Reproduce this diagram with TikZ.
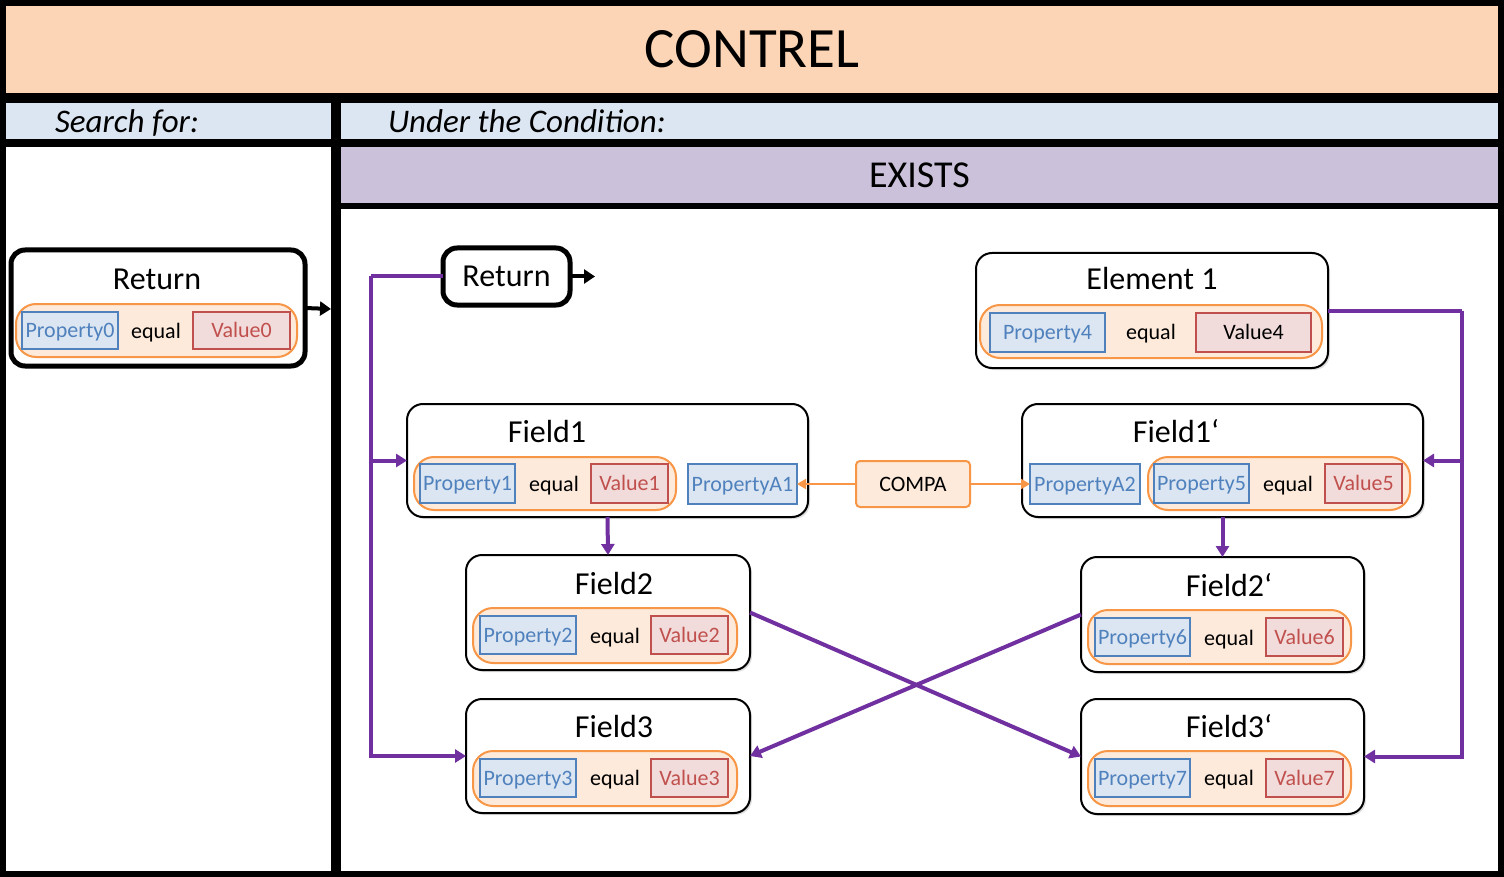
\documentclass[tikz,border=0pt]{standalone}
\usepackage{fontspec}
\setmainfont{Carlito}
\usetikzlibrary{arrows.meta,shadows}
\definecolor{peach}{HTML}{FBD5B5}
\definecolor{hdrblue}{HTML}{DCE6F2}
\definecolor{lilac}{HTML}{CCC1DA}
\definecolor{pillfill}{HTML}{FDEADA}
\definecolor{pillline}{HTML}{F79646}
\definecolor{propline}{HTML}{4F81BD}
\definecolor{propfill}{HTML}{DCE6F2}
\definecolor{valline}{HTML}{C0504D}
\definecolor{valfill}{HTML}{F2DCDB}
\definecolor{purp}{HTML}{7030A0}
\newcommand\bx[7]{\node[#6,minimum width={(#4)-(#2)},minimum height={(#5)-(#3)}] (#1) at ({((#2)+(#4))/2},{((#3)+(#5))/2}) {#7};}
\tikzset{
  every node/.style={inner sep=0pt,outer sep=0pt},
  band/.style={rectangle},
  softshadow/.style={drop shadow={opacity=0.25,shadow xshift=2pt,shadow yshift=-2pt}},
  bigbox/.style={draw=black,line width=2pt,rounded corners=16pt,fill=white,softshadow},
  retbox/.style={draw=black,line width=5pt,rounded corners=14pt,fill=white,softshadow},
  pill/.style={draw=pillline,line width=2pt,fill=pillfill,rounded corners=20pt},
  small/.style={font=\fontsize{22}{26}\selectfont,text height=16pt,text depth=2pt},
  prop/.style={draw=propline,line width=1.8pt,fill=propfill,text=propline,small},
  val/.style={draw=valline,line width=1.8pt,fill=valfill,text=valline,small},
  eqt/.style={small},
  ttl/.style={font=\fontsize{32}{36}\selectfont},
  hdr/.style={font=\fontsize{33}{36}\selectfont\itshape,text height=23pt,text depth=0pt,anchor=west},
  compabox/.style={draw=pillline,line width=2pt,fill=pillfill,rounded corners=4pt,small},
  parrow/.style={draw=purp,line width=4pt,-{Triangle[width=13pt,length=11pt]}},
  pline/.style={draw=purp,line width=4pt},
  oarrow/.style={draw=pillline,line width=2pt,-{Triangle[width=10pt,length=9pt]}},
  karrow/.style={draw=black,line width=4pt,-{Triangle[width=14pt,length=11pt]}},
}
\begin{document}
\begin{tikzpicture}[x=1pt,y=-1pt]
\fill[black] (0,0) rectangle (1504,877);
\useasboundingbox (0,0) rectangle (1504,877);
% bands and panels
\bx{title}{6}{6}{1498}{93}{band,fill=peach,font=\fontsize{57}{64}\selectfont}{CONTREL}
\bx{sbar}{6}{103}{331}{139}{band,fill=hdrblue}{}
\bx{cbar}{341}{103}{1498}{139}{band,fill=hdrblue}{}
\node[hdr] (stxt) at (55,121) {Search for:};
\node[hdr] (ctxt) at (388,121) {Under the Condition:};
\bx{lpanel}{6}{147}{331}{871}{band,fill=white}{}
\bx{exists}{341}{147}{1498}{203}{band,fill=lilac,font=\fontsize{38}{42}\selectfont}{EXISTS}
\bx{rpanel}{341}{209}{1498}{871}{band,fill=white}{}

% left Return
\bx{ret1}{11}{250}{305}{366}{retbox}{}
\node[ttl] (ret1t) at (157,279) {Return};
\bx{p0pill}{16}{304}{297}{357}{pill}{}
\bx{p0}{22}{312}{118}{349}{prop}{Property0}
\node[eqt] (e0) at (156,331) {equal};
\bx{v0}{193}{312}{290}{349}{val}{Value0}
\coordinate (ret1end) at (331,309);
\draw[karrow] (ret1.east) -- (ret1end);

% middle Return
\bx{ret2}{443}{248}{570}{305}{retbox,ttl}{Return}
\coordinate (ret2end) at (595,276.5);
\draw[karrow] (ret2.east) -- (ret2end);

% Element 1
\bx{e1}{976}{253}{1328}{368}{bigbox}{}
\node[ttl] (e1t) at (1152,279) {Element 1};
\bx{e1pill}{980}{305}{1322}{358}{pill}{}
\bx{p4}{990}{313}{1105}{352}{prop}{Property4}
\node[eqt] (e4) at (1151,332) {equal};
\bx{v4}{1196}{313}{1311}{352}{val,text=black}{Value4}

% Field1
\bx{f1}{407}{404}{808}{517}{bigbox}{}
\node[ttl] (f1t) at (547,431) {Field1};
\bx{f1pill}{414}{457}{676}{510}{pill}{}
\bx{p1}{420}{464}{515}{503}{prop}{Property1}
\node[eqt] (e1q) at (554,484) {equal};
\bx{v1}{591}{464}{668}{503}{val}{Value1}
\bx{pa1}{688}{464}{797}{504}{prop}{PropertyA1}

% COMPA
\bx{compa}{856}{461}{970}{507}{compabox}{COMPA}

% Field1'
\bx{f1p}{1022}{404}{1423}{517}{bigbox}{}
\node[ttl] (f1pt) at (1176,431) {Field1‘};
\bx{pa2}{1030}{464}{1140}{504}{prop}{PropertyA2}
\bx{f1ppill}{1148}{457}{1410}{510}{pill}{}
\bx{p5}{1154}{464}{1249}{503}{prop}{Property5}
\node[eqt] (e5) at (1288,484) {equal};
\bx{v5}{1325}{464}{1402}{503}{val}{Value5}

% Field2
\bx{f2}{466}{555}{750}{670}{bigbox}{}
\node[ttl] (f2t) at (614,583) {Field2};
\bx{f2pill}{473}{608}{737}{663}{pill}{}
\bx{p2}{480}{616}{576}{654}{prop}{Property2}
\node[eqt] (e2) at (615,636) {equal};
\bx{v2}{651}{616}{728}{654}{val}{Value2}

% Field3
\bx{f3}{466}{699}{750}{813}{bigbox}{}
\node[ttl] (f3t) at (614,726) {Field3};
\bx{f3pill}{473}{751}{737}{806}{pill}{}
\bx{p3}{480}{759}{576}{797}{prop}{Property3}
\node[eqt] (e3) at (615,778) {equal};
\bx{v3}{651}{759}{728}{797}{val}{Value3}

% Field2'
\bx{f2p}{1081}{557}{1364}{672}{bigbox}{}
\node[ttl] (f2pt) at (1229,585) {Field2‘};
\bx{f2ppill}{1088}{610}{1351}{664}{pill}{}
\bx{p6}{1095}{618}{1190}{656}{prop}{Property6}
\node[eqt] (e6) at (1229,638) {equal};
\bx{v6}{1266}{618}{1343}{656}{val}{Value6}

% Field3'
\bx{f3p}{1081}{699}{1364}{814}{bigbox}{}
\node[ttl] (f3pt) at (1229,726) {Field3‘};
\bx{f3ppill}{1088}{751}{1351}{806}{pill}{}
\bx{p7}{1095}{759}{1190}{797}{prop}{Property7}
\node[eqt] (e7) at (1229,778) {equal};
\bx{v7}{1266}{759}{1343}{797}{val}{Value7}

% connectors
\coordinate (c1) at (371,276.5);
\coordinate (c2) at (1462,310.5);
\draw[pline] (ret2.west) -- (c1);
\draw[parrow] (c1) |- (f1.west);
\draw[parrow] (c1) |- (f3.west);
\draw[pline] (e1.east) -- (c2);
\draw[parrow] (c2) |- (f1p.east);
\draw[parrow] (c2) |- (f3p.east);
\draw[parrow] (f1.south) -- (f2.north);
\draw[parrow] (f1p.south) -- (f2p.north);
\draw[parrow] (f2.east) -- (f3p.west);
\draw[parrow] (f2p.west) -- (f3.east);
\draw[oarrow] (compa.west) -- (pa1.east);
\draw[oarrow] (compa.east) -- (pa2.west);
\end{tikzpicture}
\end{document}
